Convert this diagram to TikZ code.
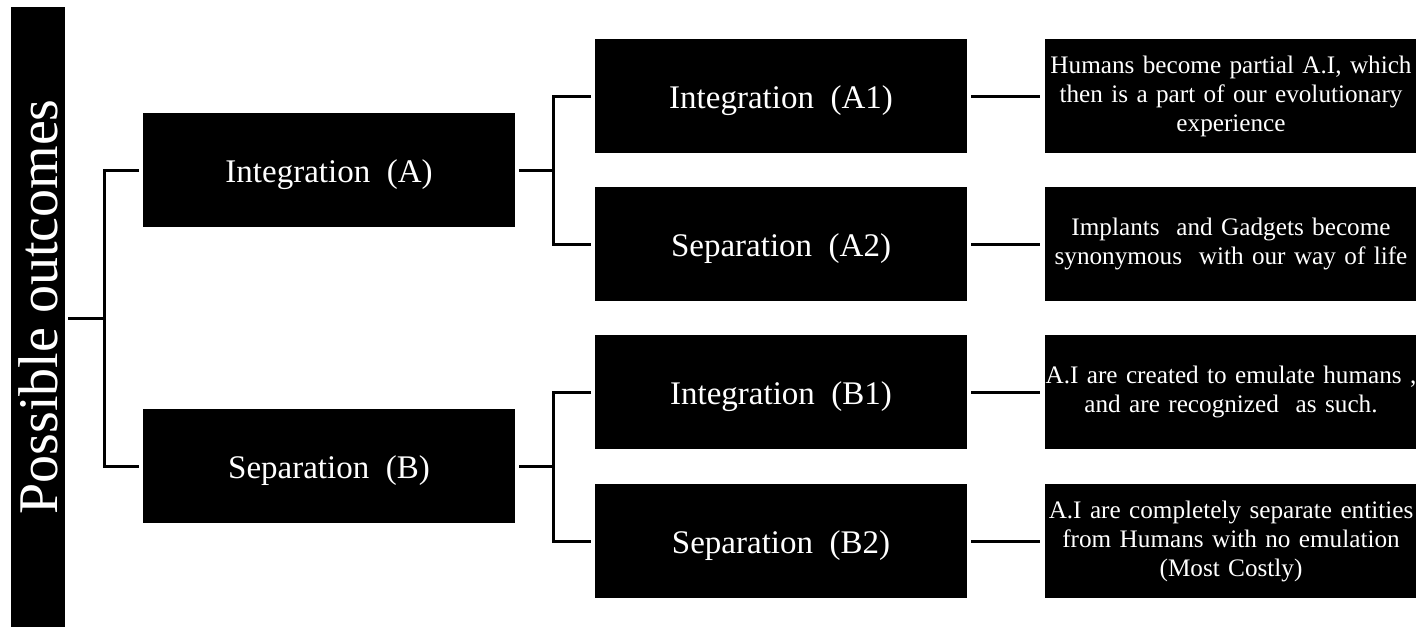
\documentclass[tikz,border=0pt]{standalone}
\usepackage{fontspec}
\setmainfont{Liberation Serif}
\begin{document}
\begin{tikzpicture}[x=0.5pt,y=-0.5pt,
  box/.style={fill=black, text=white, minimum width=186pt, minimum height=57pt, inner sep=0pt, outer sep=2pt, text height=14pt, text depth=2pt, font=\fontsize{16.5}{19}\selectfont},
  desc/.style={fill=black, text=white, minimum width=186pt, text width=186pt, minimum height=57pt, inner sep=0pt, outer sep=2.5pt, align=center, font=\fontsize{12.6}{14.5}\selectfont},
  conn/.style={draw=black, line width=1.5pt}]
\useasboundingbox (0,0) rectangle (1416,627);
% left bar
\node[fill=black, minimum width=27pt, minimum height=310pt, inner sep=0pt, outer sep=1.5pt] (po) at (38,317) {};
\node[rotate=90, text=white, inner sep=0pt, font=\fontsize{28}{32}\selectfont] (pot) at (38,307) {Possible\ outcomes};
% level 1
\node[box] (A) at (329,170) {Integration\ \ (A)};
\node[box] (B) at (329,466) {Separation\ \ (B)};
% level 2
\node[box] (A1) at (781,96) {Integration\ \ (A1)};
\node[box] (A2) at (781,244) {Separation\ \ (A2)};
\node[box] (B1) at (781,392) {Integration\ \ (B1)};
\node[box] (B2) at (781,541) {Separation\ \ (B2)};
% level 3
\node[desc] (R1) at (1231,96) {Humans become partial A.I, which\\then is a part of our evolutionary\\experience};
\node[desc] (R2) at (1231,244) {Implants\ \ and Gadgets become\\synonymous\ \ with our way of life};
\node[desc] (R3) at (1231,392) {A.I are created to emulate humans ,\\and are recognized\ \ as such.};
\node[desc] (R4) at (1231,541) {A.I are completely separate entities\\from Humans with no emulation\\(Most Costly)};
% junctions
\coordinate (j0) at (104,318);
\coordinate (j1) at (553,170);
\coordinate (j2) at (553,466);
% connectors
\draw[conn] (po.east |- j0) -- (j0);
\draw[conn] (A.west) -| (j0) |- (B.west);
\draw[conn] (A.east) -- (j1);
\draw[conn] (A1.west) -| (j1) |- (A2.west);
\draw[conn] (B.east) -- (j2);
\draw[conn] (B1.west) -| (j2) |- (B2.west);
\draw[conn] (A1.east) -- (R1.west);
\draw[conn] (A2.east) -- (R2.west);
\draw[conn] (B1.east) -- (R3.west);
\draw[conn] (B2.east) -- (R4.west);
\end{tikzpicture}
\end{document}
